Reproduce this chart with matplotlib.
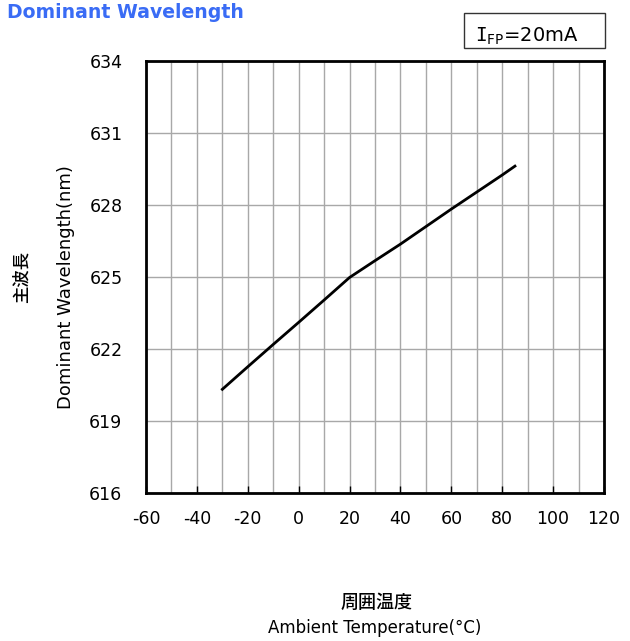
import matplotlib
matplotlib.use("Agg")
import matplotlib.pyplot as plt
from matplotlib.ticker import MultipleLocator
from matplotlib.patches import Rectangle

plt.rcParams['font.family'] = ['DejaVu Sans', 'Noto Sans CJK JP']
plt.rcParams['axes.unicode_minus'] = False

temps = [-30, -20, -10, 0, 10, 20, 30, 40, 50, 60, 70, 80, 85]
wavelength = [620.32, 621.26, 622.19, 623.11, 624.04, 624.98, 625.68, 626.37, 627.10, 627.83, 628.54, 629.25, 629.62]
x_ticks = [-60, -40, -20, 0, 20, 40, 60, 80, 100, 120]
y_ticks = [616, 619, 622, 625, 628, 631, 634]

fig = plt.figure(figsize=(6.30, 6.41), dpi=100)
ax = fig.add_axes([146/630, 1-493/641, 458/630, 432/641])

ax.plot(temps, wavelength, color='black', lw=2.0, zorder=3)
ax.set_xlim(-60, 120)
ax.set_ylim(616, 634)
ax.set_xticks(x_ticks)
ax.set_yticks(y_ticks)
ax.xaxis.set_minor_locator(MultipleLocator(10))
ax.grid(True, which='both', axis='x', color='#a8a8a8', lw=1.0)
ax.grid(True, which='major', axis='y', color='#a8a8a8', lw=1.0)
ax.tick_params(axis='both', which='major', direction='in', length=5, width=1,
               labelsize=12.5, colors='black')
ax.tick_params(axis='x', which='major', pad=12.5)
ax.tick_params(axis='x', which='minor', length=0)
ax.tick_params(axis='y', length=0, pad=17)
for s in ax.spines.values():
    s.set_linewidth(2)
    s.set_color('black')
ax.set_axisbelow(True)

fig.text(7/630, 1-12/641, 'Dominant Wavelength', color='#3a6cf5', fontsize=13.6,
         fontweight='bold', ha='left', va='center')

fig.add_artist(Rectangle((464/630, 1-48/641), 141/630, 35/641, transform=fig.transFigure,
                         fc='white', ec='#333333', lw=1))
fig.text(475/630, 1-42/641, r'$\mathtt{I}_{\mathregular{FP}}$=20mA', fontsize=14, ha='left',
         va='baseline')

fig.text(66/630, 1-287/641, 'Dominant Wavelength(nm)', rotation=90, fontsize=13,
         ha='center', va='center')
fig.text(22/630, 1-277/641, '主波長', rotation=90, fontsize=12.5, fontweight='medium',
         ha='center', va='center', family=['Noto Sans CJK JP'])

fig.text(377/630, 1-603/641, '周囲温度', fontsize=13, fontweight='medium',
         ha='center', va='center', family=['Noto Sans CJK JP'])
fig.text(375/630, 1-628/641, 'Ambient Temperature(°C)', fontsize=12,
         ha='center', va='center')

fig.savefig('out.png', dpi=100)
